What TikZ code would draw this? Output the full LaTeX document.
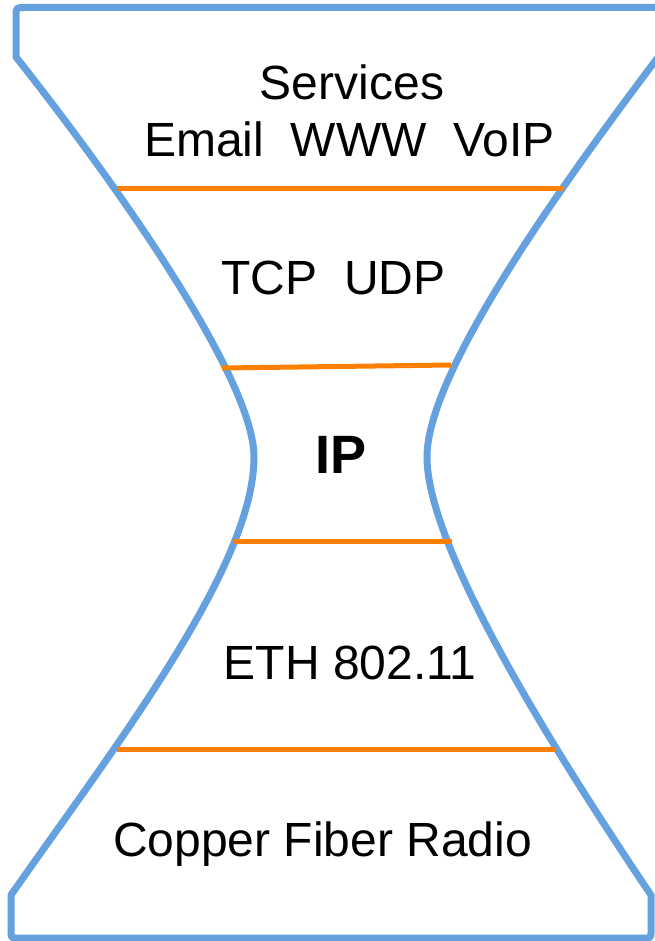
\documentclass[tikz,border=0pt]{standalone}
\usepackage{fontspec}
\setmainfont{Liberation Sans}
\definecolor{hgblue}{RGB}{100,161,222}
\definecolor{hgorange}{RGB}{255,128,0}
\begin{document}
\begin{tikzpicture}[x=0.75pt,y=-0.75pt,
  hourglass/.style={draw=hgblue, line width=5.25pt, line join=round},
  layerline/.style={draw=hgorange, line width=3.75pt},
  layertext/.style={inner sep=0pt, anchor=base, font=\fontsize{36}{43}\selectfont},
  waisttext/.style={inner sep=0pt, anchor=base, font=\fontsize{40.5}{48}\selectfont\bfseries}]
\useasboundingbox (0,0) rectangle (655,941);
\clip (0,0) rectangle (655,941);
% outline of the hourglass
\draw[hourglass] (16,57)
  .. controls (111,177) and (254,377) .. (254,457)
  .. controls (254,567) and (116,745) .. (11,895)
  -- (11,931) .. controls (11,938) .. (18,938)
  -- (644,938) .. controls (651,938) .. (651,931)
  -- (651,895)
  .. controls (550,745) and (427,547) .. (427,457)
  .. controls (427,377) and (546,205) .. (662,52)
  -- (664,16) .. controls (664,7.5) .. (656,7.5)
  -- (25,7.5) .. controls (16,7.5) .. (16,16)
  -- cycle;
% layer separators
\draw[layerline] (117,189) -- (563,189);
\draw[layerline] (222,368) -- (451,365);
\draw[layerline] (233,541.5) -- (452,541.5);
\draw[layerline] (117,749.5) -- (555,749.5);
% texts
\node[layertext] (services) at (352,100) {Services};
\node[layertext] (apps) at (349.5,157) {Email\ \ WWW\ \ VoIP};
\node[layertext] (transport) at (333.5,294) {TCP\ \ UDP};
\node[waisttext] (ip) at (341,473) {IP};
\node[layertext] (link) at (350,679) {ETH 802.11};
\node[layertext] (phys) at (322.5,856) {Copper Fiber Radio};
\end{tikzpicture}
\end{document}
